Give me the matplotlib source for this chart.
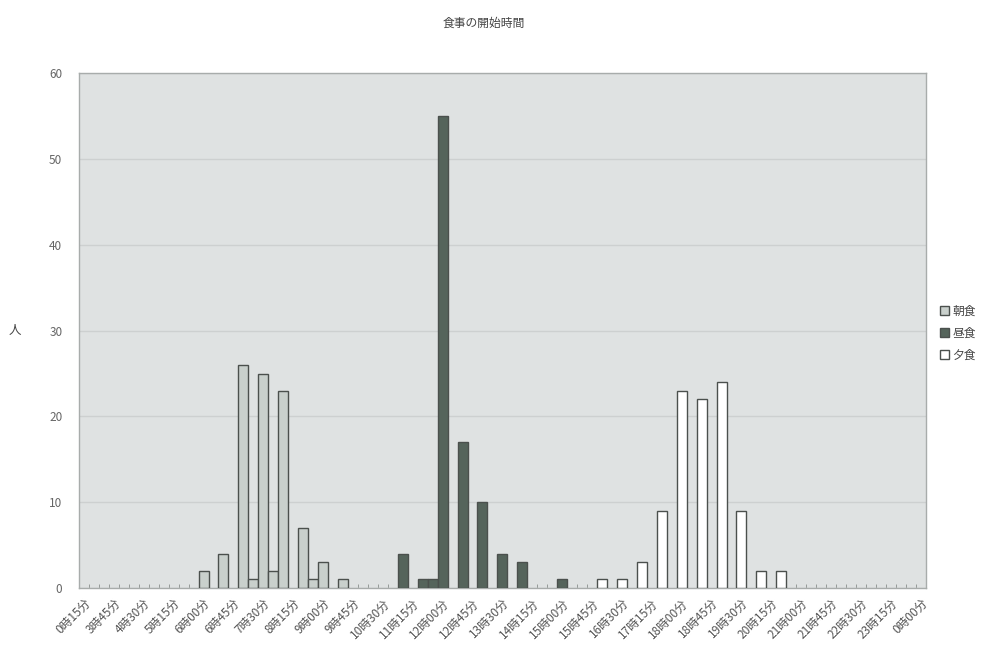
import pandas as pd
import matplotlib.pyplot as plt
import matplotlib.transforms as mtransforms
from matplotlib.patches import Patch

plt.rcParams["font.family"] = ["Noto Sans CJK JP", "DejaVu Sans"]

# ----- data -----
first_slots = ["0時15分", "3時15分", "3時30分"]
grid = pd.date_range("2000-01-01 03:45", "2000-01-02 00:00", freq="15min")
categories = first_slots + [f"{t.hour}時{t.minute:02d}分" for t in grid]

breakfast_times = ["6時00分", "6時30分", "7時00分", "7時15分", "7時30分", "7時45分",
                   "8時00分", "8時30分", "8時45分", "9時00分", "9時30分"]
breakfast_counts = [2, 4, 26, 1, 25, 2, 23, 7, 1, 3, 1]

lunch_times = ["11時00分", "11時30分", "11時45分", "12時00分", "12時30分",
               "13時00分", "13時30分", "14時00分", "15時00分"]
lunch_counts = [4, 1, 1, 55, 17, 10, 4, 3, 1]

dinner_times = ["16時00分", "16時30分", "17時00分", "17時30分", "18時00分",
                "18時30分", "19時00分", "19時30分", "20時00分", "20時30分"]
dinner_counts = [1, 1, 3, 9, 23, 22, 24, 9, 2, 2]

series = [
    ("朝食", breakfast_times, breakfast_counts, "#c9d0cc"),
    ("昼食", lunch_times, lunch_counts, "#55645b"),
    ("夕食", dinner_times, dinner_counts, "#ffffff"),
]

# ----- plot -----
fig = plt.figure(figsize=(9.88, 6.6), dpi=100)
ax = fig.add_axes([0.080, 0.109, 0.857, 0.780])
ax.set_facecolor("#dfe2e2")

edge = "#4b504d"
for name, times, counts, color in series:
    xs = [categories.index(t) for t in times]
    ax.bar(xs, counts, width=1.0, color=color, edgecolor=edge, linewidth=1.0, zorder=3)

ax.set_xlim(-0.5, len(categories) - 0.5)
ax.set_ylim(0, 60)
ax.set_yticks(range(0, 61, 10))
ax.yaxis.grid(True, color="#cdd0d0", linewidth=1.0, zorder=0)
ax.tick_params(axis="y", length=0, pad=12, labelsize=8.5, labelcolor="#666666")

major = list(range(0, len(categories), 3))
ax.set_xticks(major)
ax.set_xticklabels([categories[i] for i in major], rotation=45, ha="right",
                   rotation_mode="anchor", fontsize=8.5, color="#555555")
shift = mtransforms.ScaledTranslation(6 / 100, 0, fig.dpi_scale_trans)
for lbl in ax.get_xticklabels():
    lbl.set_transform(lbl.get_transform() + shift)
ax.set_xticks([i - 0.5 for i in range(len(categories) + 1)], minor=True)
ax.tick_params(axis="x", which="major", length=0, pad=6)
ax.tick_params(axis="x", which="minor", direction="in", length=3, color="#8a8f8c")

for s in ax.spines.values():
    s.set_color("#a8acab")
    s.set_linewidth(1.0)

ax.set_ylabel("人", rotation=0, fontsize=9, color="#444444", labelpad=25, va="center")
fig.suptitle("食事の開始時間", x=0.49, y=0.975, fontsize=8.5, color="#444444")

handles = [Patch(facecolor=c, edgecolor=edge, label=n) for n, _, _, c in series]
fig.legend(handles=handles, loc="center left", bbox_to_anchor=(0.945, 0.495),
           frameon=False, fontsize=8.5, handlelength=0.8, handleheight=0.8,
           handletextpad=0.3, labelspacing=0.75, borderpad=0, labelcolor="#444444")

fig.savefig("out.png", dpi=100)
